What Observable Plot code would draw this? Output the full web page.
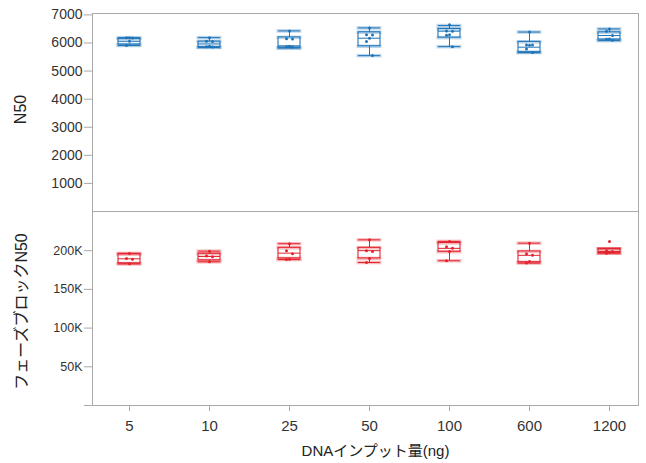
<!DOCTYPE html>
<html>
<head>
<meta charset="utf-8">
<script src="https://cdn.jsdelivr.net/npm/d3@7"></script>
<script src="https://cdn.jsdelivr.net/npm/@observablehq/plot@0.6"></script>
<style>
  html, body { margin: 0; padding: 0; background: #fff; }
  #chart svg { display: block; }
</style>
</head>
<body>
<div id="chart"></div>
<script>
// ---- data ----
const categories = ["5", "10", "25", "50", "100", "600", "1200"];

// N50 (top panel)
const n50Min    = [5910, 5840, 5820, 5550, 5870, 5660, 6085];
const n50Q1     = [5945, 5850, 5830, 5883, 6190, 5670, 6120];
const n50Median = [6060, 5965, 5900, 6170, 6420, 5850, 6265];
const n50Q3     = [6150, 6050, 6200, 6381, 6500, 6040, 6380];
const n50Max    = [6190, 6190, 6430, 6537, 6620, 6390, 6500];
const n50Points = [
  [6190, 6185, 6180, 6060, 5910],
  [6190, 6060, 6055, 5880, 5870, 5860],
  [6430, 6150, 6140, 5880, 5870, 5860],
  [6537, 6290, 6285, 6167, 6050, 5552],
  [6650, 6430, 6420, 6290, 6280, 5870],
  [6390, 5930, 5930, 5920, 5790, 5665],
  [6500, 6420, 6270, 6140, 6130, 6100]
];

// Phase block N50 (bottom panel)
const phMin    = [183000, 185600, 188500, 184700, 187000, 184000, 196800];
const phQ1     = [183500, 187500, 190000, 190000, 198600, 185000, 196800];
const phMedian = [189500, 192500, 196800, 200000, 203000, 194000, 199000];
const phQ3     = [195500, 196000, 203700, 203700, 210000, 199000, 202500];
const phMax    = [196500, 199400, 209000, 214000, 212000, 209700, 202500];
const phPoints = [
  [196500, 190000, 189000, 183000],
  [199400, 193000, 192000, 185600],
  [209000, 200000, 196000, 189000, 188500],
  [214000, 200000, 199000, 190000, 184700],
  [212000, 205000, 203000, 199000, 187000],
  [209700, 196000, 194000, 186000, 184000],
  [212000, 200000, 199000, 198000, 196800]
];

const n50Ticks = [1000, 2000, 3000, 4000, 5000, 6000, 7000];
const phTicks = [0, 50000, 100000, 150000, 200000];

const xTitle = "DNAインプット量(ng)";
const topTitle = "N50";
const bottomTitle = "フェーズブロックN50";

// ---- helpers ----
const FONT = '"Liberation Sans", "Noto Sans CJK JP", sans-serif';
const W = 646;
const xScale = {type: "band", domain: categories, range: [117, 621], paddingInner: 0.726, paddingOuter: 0};

function summary(mins, q1s, meds, q3s, maxs) {
  return categories.map((c, i) => ({cat: c, min: mins[i], q1: q1s[i], med: meds[i], q3: q3s[i], max: maxs[i]}));
}
function points(arr) {
  const out = [];
  categories.forEach((c, i) => arr[i].forEach((v, j) => out.push({cat: c, v, j})));
  return out;
}

function boxMarks(stats, pts, color) {
  const light = {stroke: color, strokeOpacity: 0.3, strokeWidth: 3.5, insetLeft: -1.5, insetRight: -1.5};
  const jit = [0, -3, 3];
  return [
    Plot.tickY(stats, {x: "cat", y: "max", ...light}),
    Plot.tickY(stats, {x: "cat", y: "min", ...light}),
    Plot.tickY(stats, {x: "cat", y: "q1", ...light}),
    Plot.tickY(stats, {x: "cat", y: "q3", ...light}),
    Plot.ruleX(stats, {x: "cat", y1: "max", y2: "q3", stroke: color, strokeWidth: 1}),
    Plot.ruleX(stats, {x: "cat", y1: "q1", y2: "min", stroke: color, strokeWidth: 1}),
    Plot.barY(stats, {x: "cat", y1: "q1", y2: "q3", fill: "none", stroke: color, strokeWidth: 1.1}),
    Plot.tickY(stats, {x: "cat", y: "max", stroke: color, strokeWidth: 1}),
    Plot.tickY(stats, {x: "cat", y: "min", stroke: color, strokeWidth: 1}),
    Plot.tickY(stats, {x: "cat", y: "med", stroke: color, strokeWidth: 1}),
    ...jit.map((d, k) => Plot.dot(pts.filter(p => p.j % 3 === k), {x: "cat", y: "v", r: 1.5, fill: color, stroke: "none", dx: d}))
  ];
}

const gray = "#a9a9a9";
const textColor = "#333";

// ---- top panel ----
const topPlot = Plot.plot({
  width: W, height: 211,
  marginTop: 13, marginBottom: 0, marginLeft: 92, marginRight: 8,
  style: {fontFamily: FONT, background: "white", overflow: "visible"},
  x: {...xScale, axis: null},
  y: {domain: [0, 7050], axis: null, label: null},
  marks: [
    Plot.frame({stroke: gray}),
    Plot.axisY({ticks: n50Ticks, tickSize: 8, tickPadding: 2, color: textColor, stroke: gray, fontSize: 14, tickFormat: d => String(d), label: null}),
    Plot.text([topTitle], {frameAnchor: "left", textAnchor: "middle", dx: -72, dy: -3, rotate: -90, fontSize: 16, fill: "#222"}),
    ...boxMarks(summary(n50Min, n50Q1, n50Median, n50Q3, n50Max), points(n50Points), "#1f74b8")
  ]
});

// ---- bottom panel ----
const bottomPlot = Plot.plot({
  width: W, height: 252,
  marginTop: 0, marginBottom: 58, marginLeft: 92, marginRight: 8,
  style: {fontFamily: FONT, background: "white", overflow: "visible"},
  x: {...xScale, axis: null},
  y: {domain: [0, 250600], axis: null, label: null},
  marks: [
    Plot.frame({stroke: gray}),
    Plot.axisY({ticks: phTicks, tickSize: 8, tickPadding: 2, color: textColor, stroke: gray, fontSize: 12.5, tickFormat: d => d === 0 ? "" : (d / 1000) + "K", label: null}),
    Plot.axisX({tickSize: 6, tickPadding: 9, color: textColor, stroke: gray, fontSize: 15, label: null}),
    Plot.text([xTitle], {frameAnchor: "bottom", dx: 10, dy: 46, fontSize: 15, fill: "#222", lineAnchor: "middle"}),
    Plot.text([bottomTitle], {frameAnchor: "left", textAnchor: "middle", dx: -71, dy: 3, rotate: -90, fontSize: 16, fill: "#222"}),
    ...boxMarks(summary(phMin, phQ1, phMedian, phQ3, phMax), points(phPoints), "#e2232e")
  ]
});

const chart = document.getElementById("chart");
chart.appendChild(topPlot);
chart.appendChild(bottomPlot);
</script>
</body>
</html>
